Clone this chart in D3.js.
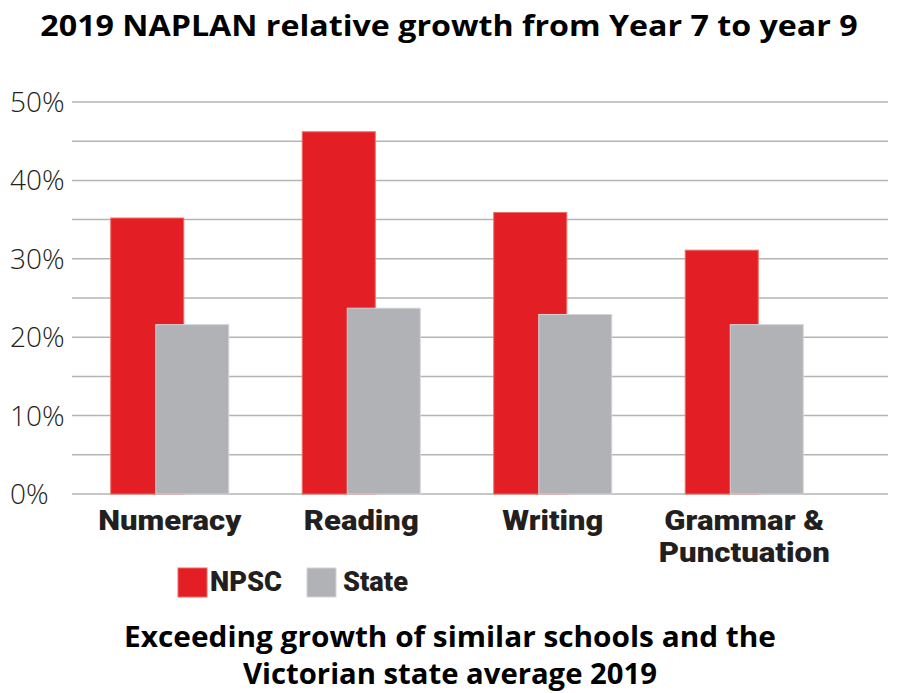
<!DOCTYPE html>
<html>
<head>
<meta charset="utf-8">
<script src="https://cdn.jsdelivr.net/npm/d3@7"></script>
<style>
  html, body { margin: 0; padding: 0; background: #fff; }
  svg { display: block; }
</style>
</head>
<body>
<svg id="chart" width="897" height="693"></svg>
<script>
const categories = ["Numeracy", "Reading", "Writing", "Grammar & Punctuation"];
const categoryLines = [["Numeracy"], ["Reading"], ["Writing"], ["Grammar &", "Punctuation"]];
const seriesNames = ["NPSC", "State"];
const npscValues = [35.2, 46.2, 35.9, 31.1];
const stateValues = [21.6, 23.7, 22.9, 21.6];
const yTicks = [0, 10, 20, 30, 40, 50];
const yGrid = [0, 5, 10, 15, 20, 25, 30, 35, 40, 45, 50];
const titleText = "2019 NAPLAN relative growth from Year 7 to year 9";
const footerLines = ["Exceeding growth of similar schools and the", "Victorian state average 2019"];
const colors = { NPSC: "#E31E24", State: "#B1B2B5" };
const strokes = { NPSC: "#EE6A62", State: "#D3D4D6" };

const svg = d3.select("#chart");

// text placed at (px, py) and stretched horizontally to a target width
function stretchedText(parent, str, px, py, target, anchor, attrs) {
  const t = parent.append("text").attr("x", 0).attr("y", 0).attr("text-anchor", anchor).text(str);
  Object.entries(attrs).forEach(([k, v]) => t.attr(k, v));
  const w = t.node().getComputedTextLength();
  const k = w > 0 ? target / w : 1;
  t.attr("transform", `translate(${px},${py}) scale(${k},1)`);
  return t;
}

const y = d3.scaleLinear().domain([0, 50]).range([494, 102]);
const x = d3.scaleBand().domain(categories).range([74, 840]).padding(0);

// Gridlines
svg.append("g").selectAll("line").data(yGrid).join("line")
  .attr("x1", 72).attr("x2", 888)
  .attr("y1", d => y(d)).attr("y2", d => y(d))
  .attr("stroke", "#b5b5b5").attr("stroke-width", 1.5);

// Y tick labels
svg.append("g").selectAll("text").data(yTicks).join("text")
  .attr("x", 10).attr("y", d => y(d) + 10)
  .attr("font-family", "'Open Sans', sans-serif")
  .attr("font-size", 28)
  .attr("font-weight", 300)
  .attr("fill", "#231f20")
  .text(d => d + "%");

const barW = 73;
const offsets = { NPSC: -59, State: -14 };
const rows = [];
categories.forEach((c, i) => {
  rows.push({ cat: c, s: "NPSC", v: npscValues[i] });
  rows.push({ cat: c, s: "State", v: stateValues[i] });
});

// Bars (NPSC first, State drawn over)
svg.append("g").selectAll("rect").data(rows).join("rect")
  .attr("x", d => x(d.cat) + x.bandwidth() / 2 + offsets[d.s])
  .attr("y", d => y(d.v))
  .attr("width", barW)
  .attr("height", d => y(0) - y(d.v))
  .attr("fill", d => colors[d.s])
  .attr("stroke", d => strokes[d.s])
  .attr("stroke-width", 1);

const labelFont = {
  "font-family": "Roboto, sans-serif",
  "font-weight": 900,
  "font-size": 27,
  "fill": "#231f20"
};

// Category labels
const catWidths = [[143], [115], [101], [160, 171]];
const catG = svg.append("g");
categories.forEach((c, i) => {
  categoryLines[i].forEach((ln, j) => {
    stretchedText(catG, ln, x(c) + x.bandwidth() / 2, 530 + j * 32, catWidths[i][j], "middle", labelFont);
  });
});

// Legend
const legend = [
  { s: "NPSC", rx: 178, tx: 210, w: 72 },
  { s: "State", rx: 307, tx: 343, w: 65 }
];
const lg = svg.append("g");
legend.forEach(l => {
  lg.append("rect").attr("x", l.rx).attr("y", 568).attr("width", 29).attr("height", 29)
    .attr("fill", colors[l.s]).attr("stroke", strokes[l.s]).attr("stroke-width", 1);
  stretchedText(lg, l.s, l.tx, 591, l.w, "start", labelFont);
});

const headFont = {
  "font-family": "'Open Sans', sans-serif",
  "font-weight": 700,
  "font-size": 29,
  "fill": "#000"
};

// Title
stretchedText(svg, titleText, 449, 36, 818, "middle", headFont);

// Footer
const footerWidths = [652, 414];
footerLines.forEach((ln, i) => {
  stretchedText(svg, ln, 450, 647 + i * 37, footerWidths[i], "middle", headFont);
});
</script>
</body>
</html>
